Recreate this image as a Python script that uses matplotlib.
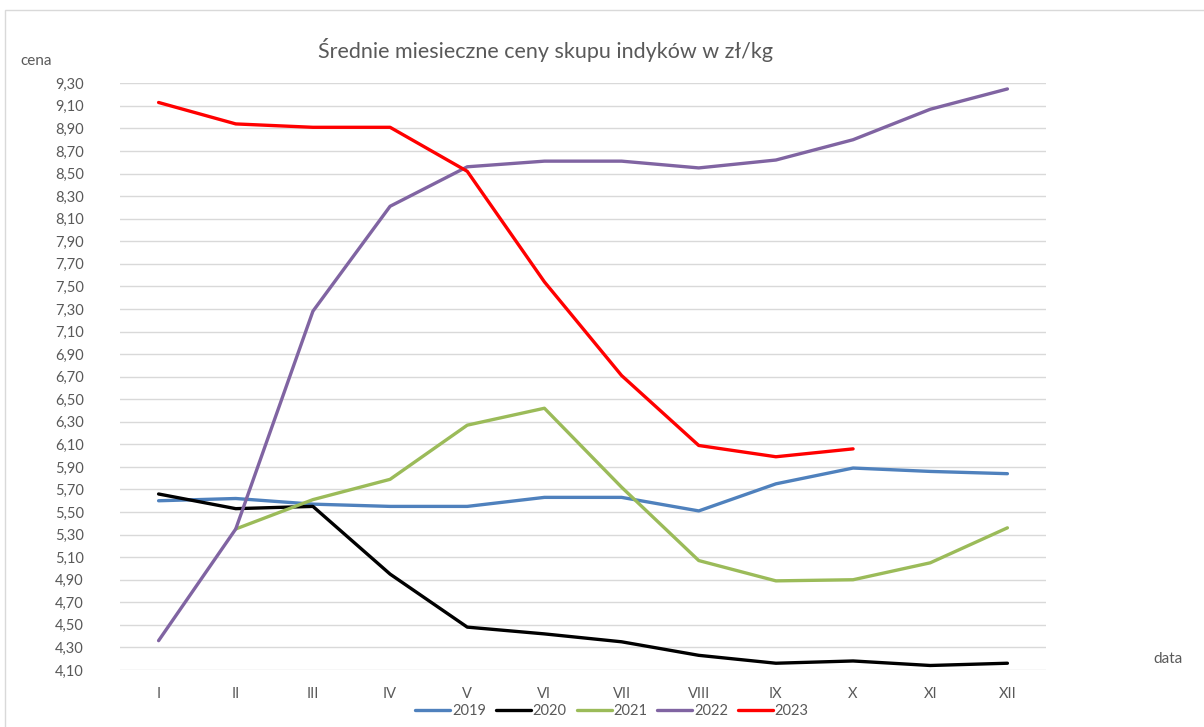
import matplotlib.pyplot as plt
from matplotlib.patches import Rectangle
import numpy as np

plt.rcParams['font.family'] = ['Lato', 'DejaVu Sans']

# ---- data ----
months = ['I', 'II', 'III', 'IV', 'V', 'VI', 'VII', 'VIII', 'IX', 'X', 'XI', 'XII']
y2019 = [5.60, 5.62, 5.57, 5.55, 5.55, 5.63, 5.63, 5.51, 5.75, 5.89, 5.86, 5.84]
y2020 = [5.66, 5.53, 5.55, 4.95, 4.48, 4.42, 4.35, 4.23, 4.16, 4.18, 4.14, 4.16]
y2021 = [None, 5.35, 5.61, 5.79, 6.27, 6.42, 5.72, 5.07, 4.89, 4.90, 5.05, 5.36]
y2022 = [4.36, 5.35, 7.28, 8.21, 8.56, 8.61, 8.61, 8.55, 8.62, 8.80, 9.07, 9.25]
y2023 = [9.13, 8.94, 8.91, 8.91, 8.52, 7.54, 6.71, 6.09, 5.99, 6.06]

series = [
    ('2019', y2019, '#4F81BD'),
    ('2020', y2020, '#000000'),
    ('2021', y2021, '#9BBB59'),
    ('2022', y2022, '#8064A2'),
    ('2023', y2023, '#FF0000'),
]

txt = '#595959'

fig = plt.figure(figsize=(12.04, 7.27), dpi=100)
ax = fig.add_axes([120 / 1204, 1 - 670 / 727, (1046 - 120) / 1204, (670 - 83.3) / 727])

for name, vals, col in series:
    v = np.array([np.nan if a is None else a for a in vals], dtype=float)
    ax.plot(np.arange(len(v)), v, color=col, lw=2.4, label=name,
            solid_capstyle='round', solid_joinstyle='round')

ax.set_xlim(-0.5, 11.5)
ax.set_ylim(4.10, 9.30)
yt = np.round(np.arange(4.10, 9.31, 0.20), 2)
ax.set_yticks(yt)
ax.set_yticklabels([f'{t:.2f}'.replace('.', ',') for t in yt])
ax.set_xticks(range(12))
ax.set_xticklabels(months)
ax.tick_params(length=0, colors=txt, labelsize=10.5)
ax.tick_params(axis='y', pad=26)
ax.tick_params(axis='x', pad=12)
ax.grid(axis='y', color='#D9D9D9', lw=1)
ax.set_axisbelow(True)
for s in ax.spines.values():
    s.set_visible(False)

fig.text(546 / 1204, 1 - 50 / 727, 'Średnie miesieczne ceny skupu indyków w zł/kg',
         ha='center', va='center', fontsize=15.5, color=txt)
fig.text(20 / 1204, 1 - 61 / 727, 'cena', ha='left', va='center', fontsize=11, color=txt)
fig.text(1168 / 1204, 1 - 659 / 727, 'data', ha='center', va='center', fontsize=11, color=txt)

fig.legend(loc='center', bbox_to_anchor=(612 / 1204, 1 - 711 / 727), ncol=5,
           frameon=False, fontsize=10.5, handlelength=2.4, handletextpad=0.1,
           columnspacing=0.7, labelcolor=txt)

fig.patches.append(Rectangle((5 / 1204, -0.05), 1.2, 1 - 10 / 727 + 0.05,
                             transform=fig.transFigure, fill=False,
                             edgecolor='#D9D9D9', lw=1))

fig.savefig('out.png', dpi=100)
